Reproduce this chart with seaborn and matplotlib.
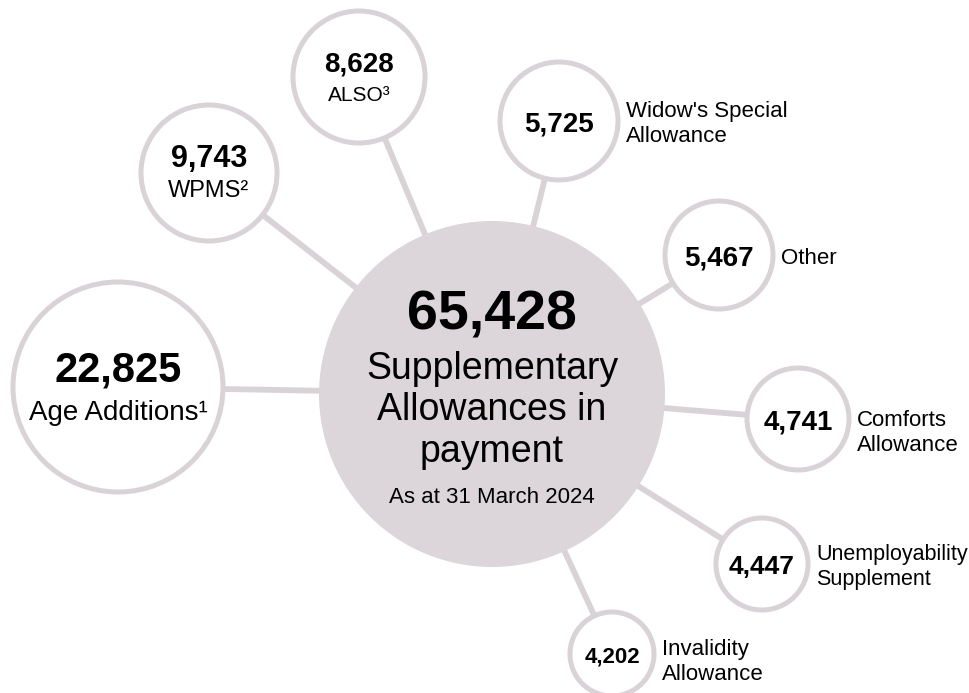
import pandas as pd
import matplotlib.pyplot as plt
from matplotlib.patches import Circle
import seaborn as sns

# data
total = 65428
total_label = "Supplementary\nAllowances in\npayment"
date_label = "As at 31 March 2024"

names = ["Age Additions¹", "WPMS²", "ALSO³", "Widow's Special\nAllowance", "Other",
         "Comforts\nAllowance", "Unemployability\nSupplement", "Invalidity\nAllowance"]
counts = [22825, 9743, 8628, 5725, 5467, 4741, 4447, 4202]

# layout (pixels on the 970x693 canvas)
hub_x, hub_y, hub_r = 492, 394, 173
node_x = [118, 209, 359, 559, 719, 798, 762, 612]
node_y = [387, 173, 77, 121, 255, 419, 564, 654]
node_r = [105, 68, 66, 59, 54, 51, 46, 42]
num_size = [30, 22, 20, 20, 20, 20, 19, 16]
name_size = [20, 17, 15, 16, 16, 16, 15.5, 16]
label_dy = [0, 0, 0, 3, 3, 14, 3, 8]
inside = [True, True, True, False, False, False, False, False]

edge = "#d9d2d7"
fill = "#dcd5da"

sns.set_theme(style="white")
plt.rcParams["font.family"] = ["Liberation Sans", "DejaVu Sans"]
plt.rcParams["text.color"] = "black"

fig = plt.figure(figsize=(9.7, 6.93), dpi=100)
ax = fig.add_axes([0, 0, 1, 1])

# spokes from every bubble to the hub
spokes = pd.DataFrame({
    "x": [v for x in node_x for v in (x, hub_x)],
    "y": [v for y in node_y for v in (y, hub_y)],
    "node": [n for n in names for _ in range(2)],
})
sns.lineplot(data=spokes, x="x", y="y", units="node", estimator=None, sort=False,
             color=edge, lw=4.2, solid_capstyle="butt", ax=ax, zorder=1)

ax.add_patch(Circle((hub_x, hub_y), hub_r, facecolor=fill, edgecolor="none", zorder=2))
ax.text(hub_x, 330, f"{total:,}", ha="center", va="baseline", fontsize=40,
        fontweight="bold", zorder=5)
ax.text(hub_x, 462, total_label, ha="center", va="baseline", fontsize=27,
        linespacing=1.2, zorder=5)
ax.text(hub_x, 503, date_label, ha="center", va="baseline", fontsize=16, zorder=5)

for i, name in enumerate(names):
    cx, cy, r = node_x[i], node_y[i], node_r[i]
    ax.add_patch(Circle((cx, cy), r, facecolor="white", edgecolor=edge, lw=3.6, zorder=3))
    if inside[i]:
        ax.text(cx, cy - 6, f"{counts[i]:,}", ha="center", va="baseline",
                fontsize=num_size[i], fontweight="bold", zorder=5)
        ax.text(cx, cy + 0.24 * r + 8, name, ha="center", va="baseline",
                fontsize=name_size[i], zorder=5)
    else:
        ax.text(cx, cy, f"{counts[i]:,}", ha="center", va="center_baseline",
                fontsize=num_size[i], fontweight="bold", zorder=5)
        ax.text(cx + r + 8, cy + label_dy[i], name, ha="left", va="center",
                fontsize=name_size[i], linespacing=1.2, zorder=5)

ax.set_xlim(0, 970)
ax.set_ylim(693, 0)
ax.axis("off")
fig.savefig("out.png", dpi=100)
